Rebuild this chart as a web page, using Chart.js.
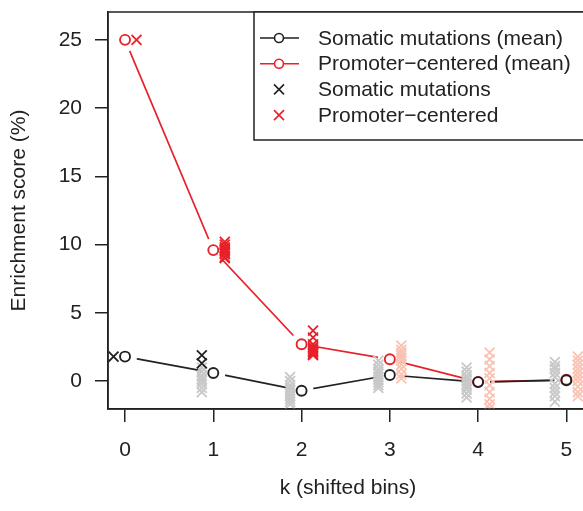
<!DOCTYPE html>
<html>
<head>
<meta charset="utf-8">
<script src="https://cdn.jsdelivr.net/npm/chart.js@4.4.1/dist/chart.umd.min.js"></script>
<style>
  html, body { margin: 0; padding: 0; overflow: hidden; background: #fff; }
  #wrap { width: 600px; height: 511px; }
</style>
</head>
<body>
<div id="wrap"><canvas id="enrichChart" width="600" height="511"></canvas></div>
<script>
// ENRICHMENT SCORE vs SHIFTED BINS

const bins = [0, 1, 2, 3, 4, 5];
const xTicks = [0, 1, 2, 3, 4, 5];
const yTicks = [0, 5, 10, 15, 20, 25];

// means per bin
const somaticMean = [1.8, 0.6, -0.7, 0.45, -0.07, 0.07];
const promoterMean = [25.0, 9.6, 2.7, 1.6, -0.05, 0.1];

// single runs per bin, dark = significant, pale = not
const somaticSig = [[1.8], [1.9, 1.3], [], [], [], []];
const somaticRest = [
  [],
  [1.0, 0.7, 0.4, 0.2, 0.0, -0.2, -0.5, -0.8],
  [0.3, 0.0, -0.3, -0.5, -0.7, -0.9, -1.1, -1.3, -1.5, -1.7],
  [1.5, 1.2, 0.9, 0.7, 0.5, 0.3, 0.1, -0.1, -0.3, -0.5],
  [1.0, 0.7, 0.4, 0.2, 0.0, -0.2, -0.4, -0.6, -0.9, -1.2],
  [1.4, 1.1, 0.9, 0.6, 0.3, -0.2, -0.5, -0.8, -1.1, -1.5]
];
const promoterSig = [
  [25.0],
  [10.2, 10.0, 9.8, 9.7, 9.6, 9.5, 9.4, 9.3, 9.1, 9.0],
  [3.7, 3.2, 2.7, 2.5, 2.4, 2.3, 2.2, 2.1, 2.0, 1.9],
  [], [], []
];
const promoterRest = [
  [], [], [],
  [2.6, 2.3, 2.1, 1.9, 1.7, 1.5, 1.2, 0.9, 0.5, 0.2],
  [2.1, 1.6, 1.1, 0.6, 0.2, -0.3, -0.8, -1.3, -1.7, -2.0],
  [1.8, 1.5, 1.2, 0.9, 0.6, 0.3, 0.0, -0.4, -0.8, -1.1]
];

const INK = '#222222';
const RED = '#e8212a';
const GREY = '#c8c8c8';
const PINK = '#f9c3b4';
const JITTER = 0.13;
const FONT = "'Liberation Sans', Arial, Helvetica, sans-serif";

Chart.defaults.font.family = FONT;
Chart.defaults.font.size = 21;
Chart.defaults.color = INK;

const meanPoints = (arr) => bins.map((k, i) => ({ x: k, y: arr[i] }));
const runPoints = (runs, shift) => {
  const pts = [];
  runs.forEach((vals, i) => vals.forEach(v => pts.push({ x: bins[i] + shift, y: v })));
  return pts;
};

// line with white gaps round the points, like R type="b"
const gapLine = (arr, color, order) => ({
  data: meanPoints(arr),
  showLine: true,
  borderColor: color,
  borderWidth: 1.7,
  pointRadius: 12,
  pointBorderWidth: 0,
  pointBackgroundColor: '#ffffff',
  pointBorderColor: '#ffffff',
  order: order
});
const crosses = (pts, color, order) => ({
  data: pts,
  showLine: false,
  pointStyle: 'crossRot',
  pointRadius: 7,
  pointBorderWidth: 1.8,
  pointBorderColor: color,
  order: order
});
const circles = (arr, color, order) => ({
  data: meanPoints(arr),
  showLine: false,
  pointStyle: 'circle',
  pointRadius: 5,
  pointBorderWidth: 1.9,
  pointBorderColor: color,
  pointBackgroundColor: 'rgba(0,0,0,0)',
  order: order
});

const boxPlugin = {
  id: 'box',
  afterDraw(chart) {
    const { ctx, chartArea: a } = chart;
    ctx.save();
    ctx.strokeStyle = INK;
    ctx.lineWidth = 1.5;
    ctx.strokeRect(a.left, a.top, a.right - a.left, a.bottom - a.top);

    // legend
    const x0 = a.left + 146, y0 = a.top;
    ctx.fillStyle = '#ffffff';
    ctx.fillRect(x0, y0, 400, 128);
    ctx.strokeRect(x0, y0, 400, 128);
    const rows = [
      { text: 'Somatic mutations (mean)', color: INK, mean: true },
      { text: 'Promoter\u2212centered (mean)', color: RED, mean: true },
      { text: 'Somatic mutations', color: INK, mean: false },
      { text: 'Promoter\u2212centered', color: RED, mean: false }
    ];
    ctx.font = '21px ' + FONT;
    ctx.textBaseline = 'middle';
    ctx.textAlign = 'left';
    rows.forEach((r, i) => {
      const y = y0 + 26 + i * 25.7;
      const cx = x0 + 25;
      ctx.strokeStyle = r.color;
      ctx.lineWidth = 1.6;
      ctx.beginPath();
      if (r.mean) {
        ctx.moveTo(x0 + 6, y); ctx.lineTo(cx - 5, y);
        ctx.moveTo(cx + 5, y); ctx.lineTo(x0 + 45, y);
        ctx.stroke();
        ctx.beginPath();
        ctx.arc(cx, y, 4.5, 0, Math.PI * 2);
      } else {
        ctx.moveTo(cx - 5, y - 5); ctx.lineTo(cx + 5, y + 5);
        ctx.moveTo(cx - 5, y + 5); ctx.lineTo(cx + 5, y - 5);
      }
      ctx.stroke();
      ctx.fillStyle = INK;
      ctx.fillText(r.text, x0 + 64, y + 1);
    });
    ctx.restore();
  }
};

new Chart(document.getElementById('enrichChart'), {
  type: 'scatter',
  data: {
    datasets: [
      gapLine(promoterMean, RED, 20),
      gapLine(somaticMean, INK, 19),
      crosses(runPoints(somaticRest, -JITTER), GREY, 18),
      crosses(runPoints(promoterRest, JITTER), PINK, 17),
      crosses(runPoints(somaticSig, -JITTER), INK, 16),
      crosses(runPoints(promoterSig, JITTER), RED, 15),
      circles(promoterMean, RED, 14),
      circles(somaticMean, INK, 13)
    ]
  },
  options: {
    responsive: false,
    animation: false,
    events: [],
    layout: { padding: { top: 10, right: 5, left: 0, bottom: 0 } },
    plugins: {
      legend: { display: false },
      tooltip: { enabled: false }
    },
    scales: {
      x: {
        type: 'linear',
        min: -0.193,
        max: 5.245,
        afterBuildTicks: s => { s.ticks = xTicks.map(v => ({ value: v })); },
        afterFit: s => { s.height = 102; s.paddingLeft = 0; s.paddingRight = 0; },
        grid: { drawOnChartArea: false, tickLength: 13, color: INK, lineWidth: 1.5 },
        border: { display: true, color: INK, width: 1.5 },
        ticks: { padding: 16, color: INK, maxRotation: 0 },
        title: { display: true, text: 'k (shifted bins)', color: INK, padding: { top: 0, bottom: 10 } }
      },
      y: {
        type: 'linear',
        min: -2.04,
        max: 27.04,
        afterBuildTicks: s => { s.ticks = yTicks.map(v => ({ value: v })); },
        afterFit: s => { s.width = 108; s.paddingTop = 0; s.paddingBottom = 0; },
        grid: { drawOnChartArea: false, tickLength: 13, color: INK, lineWidth: 1.5 },
        border: { display: true, color: INK, width: 1.5 },
        ticks: { padding: 13, color: INK },
        title: { display: true, text: 'Enrichment score (%)', color: INK, padding: { top: 7, bottom: 0 } }
      }
    }
  },
  plugins: [boxPlugin]
});
</script>
</body>
</html>
